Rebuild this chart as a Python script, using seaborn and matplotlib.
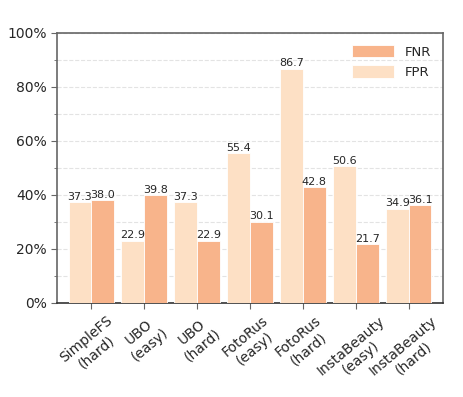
import numpy as np
import matplotlib
matplotlib.use("Agg")
import matplotlib.pyplot as plt
from matplotlib.ticker import FuncFormatter, MultipleLocator
import pandas as pd
import seaborn as sns

apps = ["SimpleFS\n(hard)", "UBO\n(easy)", "UBO\n(hard)", "FotoRus\n(easy)",
        "FotoRus\n(hard)", "InstaBeauty\n(easy)", "InstaBeauty\n(hard)"]
fpr = [37.3, 22.9, 37.3, 55.4, 86.7, 50.6, 34.9]
fnr = [38.0, 39.8, 22.9, 30.1, 42.8, 21.7, 36.1]

df = pd.DataFrame({"app": apps * 2,
                   "rate": fpr + fnr,
                   "metric": ["FPR"] * len(apps) + ["FNR"] * len(apps)})

sns.set_style("white")
fig = plt.figure(figsize=(4.63, 3.97), dpi=100)
ax = fig.add_axes([0.123, 0.237, 0.834, 0.68])

ax = sns.barplot(data=df, x="app", y="rate", hue="metric", hue_order=["FPR", "FNR"],
                 palette={"FPR": "#fde0c5", "FNR": "#f8b48b"}, saturation=1, width=0.86,
                 edgecolor="white", linewidth=0.6, ax=ax, zorder=3)

for cont in ax.containers:
    ax.bar_label(cont, fmt="%.1f", fontsize=8, padding=0.5)

ax.set_ylim(0, 100)
ax.set_xlim(-0.65, 6.65)
ax.yaxis.set_major_locator(MultipleLocator(20))
ax.yaxis.set_minor_locator(MultipleLocator(10))
ax.yaxis.set_major_formatter(FuncFormatter(lambda v, p: "%d%%" % v))
ax.grid(axis="y", which="both", linestyle="--", color="#e3e3e3", linewidth=0.8, zorder=0)
ax.set_axisbelow(True)
ax.set_xlabel("")
ax.set_ylabel("")
ax.tick_params(axis="y", which="major", left=True, length=4, color="#666666", labelsize=10)
ax.tick_params(axis="y", which="minor", left=True, length=2, color="#666666")
ax.tick_params(axis="x", bottom=True, length=4, color="#666666", labelsize=10)
plt.setp(ax.get_xticklabels(), rotation=40, ha="center", multialignment="center")
for s in ax.spines.values():
    s.set_color("#666666")
    s.set_linewidth(1.2)
ax.spines["bottom"].set_color("#333333")

h, l = ax.get_legend_handles_labels()
ax.legend([h[1], h[0]], [l[1], l[0]], loc="upper right", frameon=False, fontsize=9.5,
          handlelength=3.2, handleheight=1.1)

fig.savefig("out.png", dpi=100)
